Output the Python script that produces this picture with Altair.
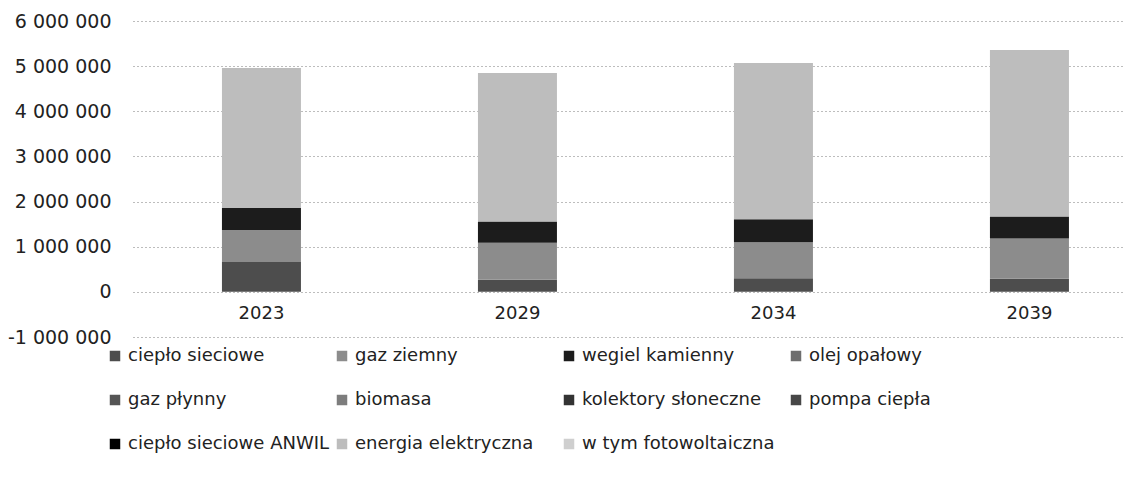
import altair as alt
import pandas as pd

years = ["2023", "2029", "2034", "2039"]
series = [
    "ciepło sieciowe", "gaz ziemny", "wegiel kamienny", "olej opałowy",
    "gaz płynny", "biomasa", "kolektory słoneczne", "pompa ciepła",
    "ciepło sieciowe ANWIL", "energia elektryczna", "w tym fotowoltaiczna",
]
colors = [
    "#4d4d4d", "#8c8c8c", "#1c1c1c", "#6e6e6e",
    "#555555", "#7d7d7d", "#333333", "#474747",
    "#000000", "#bdbdbd", "#cfcfcf",
]
cieplo_sieciowe = [660000, 270000, 300000, 290000]
gaz_ziemny = [710000, 820000, 800000, 890000]
wegiel_kamienny = [490000, 470000, 510000, 490000]
olej_opalowy = [0, 0, 0, 0]
gaz_plynny = [0, 0, 0, 0]
biomasa = [0, 0, 0, 0]
kolektory = [0, 0, 0, 0]
pompa = [0, 0, 0, 0]
cieplo_anwil = [0, 0, 0, 0]
energia_elektryczna = [3100000, 3290000, 3460000, 3690000]
fotowoltaiczna = [0, 0, 0, 0]

values = [cieplo_sieciowe, gaz_ziemny, wegiel_kamienny, olej_opalowy, gaz_plynny,
          biomasa, kolektory, pompa, cieplo_anwil, energia_elektryczna, fotowoltaiczna]

rows = []
for si, (name, vals) in enumerate(zip(series, values)):
    for y, v in zip(years, vals):
        rows.append({"year": y, "series": name, "value": v, "idx": si})
df = pd.DataFrame(rows)

FONT = "DejaVu Sans"

chart = alt.Chart(df).mark_bar().encode(
    x=alt.X("year:N", sort=years, title=None,
            scale=alt.Scale(paddingInner=0.6914, paddingOuter=0.2793, align=0.622),
            axis=alt.Axis(labelAngle=0, domain=False, ticks=False, labelPadding=12, grid=False,
                          offset=-45, labelFontSize=18, labelColor="#222222", labelFont=FONT)),
    y=alt.Y("value:Q", stack="zero", title=None,
            scale=alt.Scale(domain=[-1000000, 6000000], nice=False),
            axis=alt.Axis(values=[-1000000, 0, 1000000, 2000000, 3000000, 4000000, 5000000, 6000000],
                          labelExpr="replace(replace(format(datum.value, ','), /,/g, ' '), /\u2212/g, '-')",
                          domain=False, ticks=False, labelPadding=22,
                          labelFontSize=19, labelColor="#222222", labelFont=FONT,
                          grid=True, gridDash=[1, 3], gridColor="#7a7a7a", gridWidth=1)),
    color=alt.Color("series:N", sort=series,
                    scale=alt.Scale(domain=series, range=colors),
                    legend=alt.Legend(title=None, orient="none", legendX=-27, legendY=326,
                                      direction="horizontal", columns=4, gridAlign="all",
                                      symbolType="square", symbolSize=110, symbolStrokeWidth=0,
                                      labelFontSize=18, labelFont=FONT, labelColor="#222222",
                                      labelOffset=4, columnPadding=3, rowPadding=26,
                                      padding=0, labelLimit=400)),
    order=alt.Order("idx:Q", sort="ascending"),
).properties(
    width=990, height=316,
    background="white",
    autosize=alt.AutoSizeParams(type="none"),
    padding={"left": 125, "top": 13, "right": 4, "bottom": 139},
).configure_view(strokeWidth=0, stroke="transparent")

chart.save("out.html", embed_options={"renderer": "svg", "actions": False})
